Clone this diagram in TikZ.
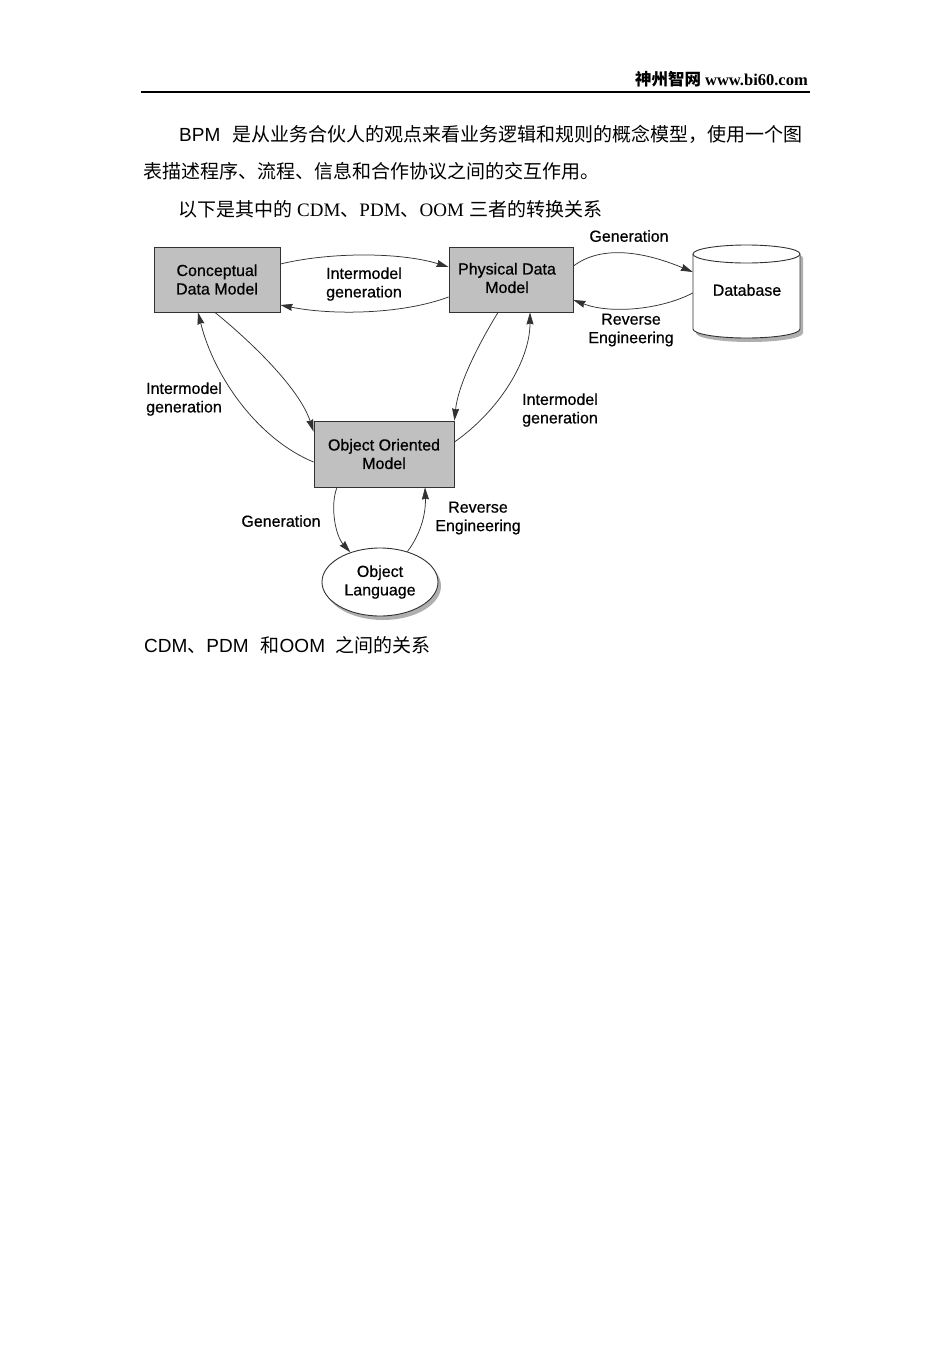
\documentclass[tikz,border=0pt]{standalone}
\usepackage{fontspec}
\setmainfont{Liberation Serif}
\newfontfamily\arial{Liberation Sans}
\newfontfamily\arialdg[FakeBold=0.6]{Liberation Sans}
\newfontfamily\cjk{Noto Sans CJK SC}
\usetikzlibrary{arrows.meta,shapes.geometric,shadows}
\definecolor{boxgray}{RGB}{192,192,192}
\definecolor{linegray}{RGB}{50,50,50}
\definecolor{shadowgray}{RGB}{175,175,175}
\begin{document}
\begin{tikzpicture}[x=1pt,y=-1pt,
  box/.style={draw=linegray, line width=0.9pt, fill=boxgray, inner sep=0pt, align=center, font=\arialdg\fontsize{16}{18.5}\selectfont},
  lbl/.style={inner sep=0pt, align=center, font=\arialdg\fontsize{16}{18.5}\selectfont},
  conn/.style={draw=linegray, line width=0.75pt, -{Stealth[length=12pt,width=7pt,inset=1pt]}},
  body/.style={inner sep=0pt, anchor=base west, font=\fontsize{19}{22}\selectfont}]
\useasboundingbox (0,0) rectangle (952,1347);
\fill[white] (0,0) rectangle (952,1347);

% header
\node[inner sep=0pt, anchor=base east, font=\fontsize{16.5}{18}\selectfont\bfseries] (hdr) at (808,85) {{\cjk 神州智网} www.bi60.com};
\draw[line width=2pt] (141,92) -- (810,92);

% body text
\node[body] (t1) at (179,141) {{\arial BPM}\hspace{12pt}{\cjk 是从业务合伙人的观点来看业务逻辑和规则的概念模型，使用一个图}};
\node[body] (t2) at (143,178) {{\cjk 表描述程序、流程、信息和合作协议之间的交互作用。}};
\node[body] (t3) at (178,216) {{\cjk 以下是其中的}\hspace{5pt}CDM{\cjk 、}PDM{\cjk 、}OOM\hspace{5pt}{\cjk 三者的转换关系}};
\node[body] (cap) at (144,652) {{\arial CDM}{\cjk 、}{\arial PDM}\hspace{12pt}{\cjk 和}{\arial OOM}\hspace{10pt}{\cjk 之间的关系}};

% boxes
\node[box, minimum width=126pt, minimum height=65pt] (cdm) at (217,279.5) {Conceptual\\Data Model};
\node[box, minimum width=124pt, minimum height=65pt] (pdm) at (511,279.5) {};
\node[lbl] (pdml) at (507,278) {Physical Data\\Model};
\node[box, minimum width=140pt, minimum height=66pt] (oom) at (384,454) {Object Oriented\\Model};

% database cylinder
\fill[shadowgray] (696,258) -- (696,333) arc[start angle=180,end angle=360,x radius=53.5pt,y radius=9pt] -- (803,258) arc[start angle=0,end angle=180,x radius=53.5pt,y radius=9pt] -- cycle;
\filldraw[fill=white, draw=linegray, line width=0.9pt] (693,254) -- (693,329) arc[start angle=180,end angle=360,x radius=53.5pt,y radius=9pt] -- (800,254) arc[start angle=0,end angle=180,x radius=53.5pt,y radius=9pt] -- cycle;
\draw[linegray, line width=0.9pt] (693,254) arc[start angle=180,end angle=360,x radius=53.5pt,y radius=9pt];
\node[lbl, minimum width=107pt, minimum height=93pt] (db) at (746.5,291.5) {};
\node[lbl] (dbl) at (747,290) {Database};

% object language
\node[ellipse, draw=linegray, fill=white, line width=0.9pt, minimum width=116pt, minimum height=68pt, inner sep=0pt, align=center, font=\arialdg\fontsize{16}{18.5}\selectfont, drop shadow={shadow xshift=3pt, shadow yshift=-4pt, fill=shadowgray, opacity=1}] (ol) at (380,582) {Object\\Language};

% connectors
\draw[conn] ([yshift=15.5pt]cdm.east) .. controls (330,252) and (400,252) .. ([yshift=12.5pt]pdm.west);
\draw[conn] ([yshift=-17.5pt]pdm.west) .. controls (400,315) and (330,315) .. ([yshift=-25.5pt]cdm.east);
\draw[conn] ([yshift=13.5pt]pdm.east) .. controls (600,246) and (640,250) .. ([yshift=19.5pt]db.west);
\draw[conn] ([yshift=-1.5pt]db.west) .. controls (660,310) and (610,314) .. ([yshift=-20.5pt]pdm.east);
\draw[conn] ([xshift=-2pt]cdm.south) .. controls (255,345) and (300,390) .. ([yshift=-11pt]oom.north west);
\draw[conn] ([yshift=-8pt]oom.west) .. controls (260,440) and (215,380) .. ([xshift=-19pt]cdm.south);
\draw[conn] ([xshift=-13pt]pdm.south) .. controls (478,345) and (458,385) .. (oom.north east);
\draw[conn] ([yshift=12pt]oom.east) .. controls (500,410) and (530,360) .. ([xshift=19pt]pdm.south);
\draw[conn] ([xshift=-47pt]oom.south) .. controls (330,505) and (335,535) .. (ol.135);
\draw[conn] (ol.48) .. controls (420,535) and (426,515) .. ([xshift=41pt]oom.south);

% labels
\node[lbl] (l1) at (364,284) {Intermodel\\generation};
\node[lbl] (l2) at (629,236) {Generation};
\node[lbl] (l3) at (631,330) {Reverse\\Engineering};
\node[lbl, align=left, anchor=west] (l4) at (146,399) {Intermodel\\generation};
\node[lbl, align=left, anchor=west] (l5) at (522,410) {Intermodel\\generation};
\node[lbl] (l6) at (281,521) {Generation};
\node[lbl] (l7) at (478,518) {Reverse\\Engineering};
\end{tikzpicture}
\end{document}
